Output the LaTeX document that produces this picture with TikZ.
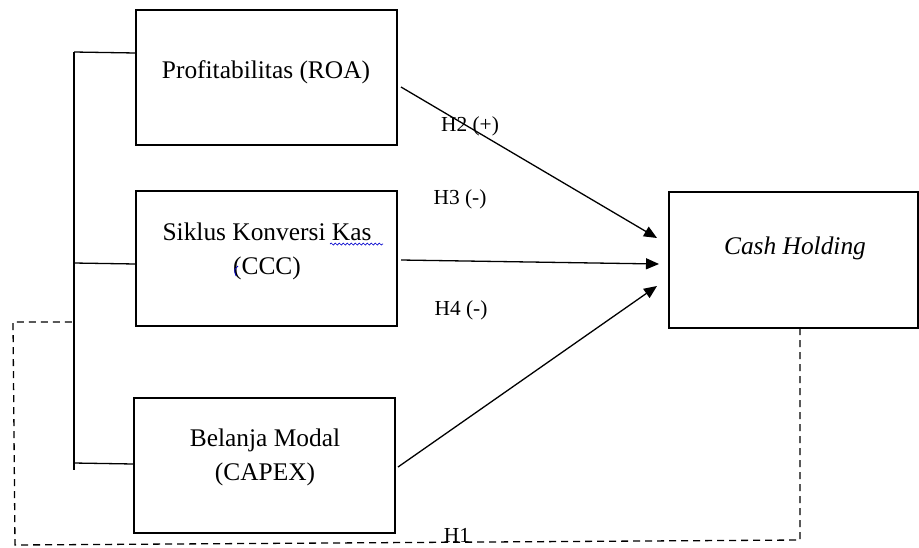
\documentclass[tikz,border=0pt]{standalone}
\usepackage{fontspec}
\setmainfont{Liberation Serif}
\usetikzlibrary{arrows.meta,decorations.pathmorphing}
\begin{document}
\begin{tikzpicture}[x=0.5pt,y=-0.5pt,line width=0.65pt,
  boxnode/.style={draw,line width=0.65pt,inner sep=0pt,outer sep=0pt,anchor=north west},
  boxtext/.style={font=\fontsize{12.7}{17}\selectfont,align=center,inner sep=0pt},
  hyplabel/.style={font=\fontsize{10.7}{13}\selectfont,inner sep=0pt},
  arrowline/.style={-{Triangle[length=6.5pt,width=5.5pt]}},
  dashline/.style={dash pattern=on 3.5pt off 2.5pt},
  squiggle/.style={draw=blue!80!black,line width=0.35pt,decorate,decoration={snake,amplitude=0.5pt,segment length=2pt}}]
\useasboundingbox (0,0) rectangle (919,547);
% boxes
\node[boxnode,minimum width=130.5pt,minimum height=67.5pt] (roa) at (136,10) {};
\node[boxnode,minimum width=130.5pt,minimum height=67.5pt] (ccc) at (136,191) {};
\node[boxnode,minimum width=130.5pt,minimum height=67.5pt] (capex) at (134,398) {};
\node[boxnode,minimum width=124.5pt,minimum height=68pt] (cash) at (669,192) {};
% box texts
\node[boxtext] (troa) at (266,72) {Profitabilitas (ROA)};
\node[boxtext] (tccc) at (267,251) {Siklus Konversi Kas\\(CCC)};
\node[boxtext] (tcapex) at (265,457) {Belanja Modal\\(CAPEX)};
\node[boxtext,font=\fontsize{12.7}{17}\selectfont\itshape] (tcash) at (795,248) {Cash Holding};
% spelling squiggles
\coordinate (sq1) at (330,244);
\coordinate (sq2) at (383,244);
\draw[squiggle] (sq1) -- (sq2);
\coordinate (sq3) at (238,266);
\coordinate (sq4) at (236,276);
\draw[blue!80!black,line width=0.4pt] (sq3) .. controls (234,270) .. (sq4);
% bracket
\coordinate (bt) at (74,52);
\coordinate (bb) at (74,470);
\coordinate (b1) at (74,52);
\coordinate (b2) at (74,263);
\coordinate (b3) at (74,463);
\draw (bt) -- (bb);
\draw (b1) -- (roa.west |- 0,53);
\draw (b2) -- (ccc.west |- 0,264);
\draw (b3) -- (capex.west |- 0,464);
% arrows
\coordinate (a1s) at (401,87);
\coordinate (a1e) at (657,238);
\coordinate (a2s) at (401,260);
\coordinate (a2e) at (659,264);
\coordinate (a3s) at (398,467);
\coordinate (a3e) at (657,286);
\draw[arrowline] (a1s) -- (a1e);
\draw[arrowline] (a2s) -- (a2e);
\draw[arrowline] (a3s) -- (a3e);
% hypothesis labels
\node[hyplabel] (h2) at (470,126) {H2 (+)};
\node[hyplabel] (h3) at (460,199) {H3 (-)};
\node[hyplabel] (h4) at (461,310) {H4 (-)};
\node[hyplabel] (h1) at (457,535) {H1};
% dashed H1 path
\coordinate (d1) at (800,540);
\coordinate (d2) at (15,545);
\coordinate (d3) at (13,322);
\coordinate (d4) at (74,322);
\draw[dashline] (cash.south -| d1) -- (d1) -- (d2) -- (d3) -- (d4);
\end{tikzpicture}
\end{document}
